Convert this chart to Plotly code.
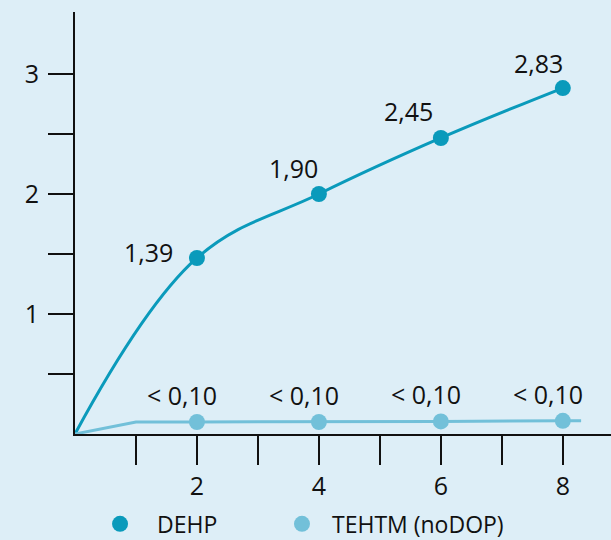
import plotly.graph_objects as go

# Data
x_dehp = [0, 2, 4, 6, 8]
y_dehp = [0, 1.467, 2.0, 2.467, 2.883]
lbl_dehp = ["", "1,39", "1,90", "2,45", "2,83"]

x_tehtm = [0, 1, 2, 4, 6, 8, 8.3]
y_tehtm = [0, 0.1, 0.1, 0.1, 0.105, 0.11, 0.11]
lbl_tehtm = ["", "", "< 0,10", "< 0,10", "< 0,10", "< 0,10", ""]

x_ticks = [1, 2, 3, 4, 5, 6, 7, 8]
x_ticktext = ["", "2", "", "4", "", "6", "", "8"]
y_ticks = [0.5, 1, 1.5, 2, 2.5, 3]
y_ticktext = ["", "1", "", "2", "", "3"]

series_names = ["DEHP", "TEHTM (noDOP)"]

# Styles
c_dark = "#0a9abb"
c_light = "#72c0d9"
bg = "#ddeef7"
ink = "#111111"
font_family = "Open Sans, Noto Sans, sans-serif"
dehp_label_shift = [(0, 0), (-48, 6), (-25, 26), (-32, 27), (-24, 25)]
tehtm_label_shift = (-15, 27)

fig = go.Figure()

fig.add_trace(go.Scatter(
    x=x_dehp, y=y_dehp, mode="lines",
    line=dict(color=c_dark, width=3, shape="spline", smoothing=1.1),
    showlegend=False, hoverinfo="skip"))
fig.add_trace(go.Scatter(
    x=x_dehp[1:], y=y_dehp[1:], mode="markers", marker=dict(color=c_dark, size=16),
    showlegend=False))
fig.add_trace(go.Scatter(
    x=x_tehtm, y=y_tehtm, mode="lines", line=dict(color=c_light, width=3),
    showlegend=False, hoverinfo="skip"))
fig.add_trace(go.Scatter(
    x=[x for x, l in zip(x_tehtm, lbl_tehtm) if l],
    y=[y for y, l in zip(y_tehtm, lbl_tehtm) if l],
    mode="markers", marker=dict(color=c_light, size=16), showlegend=False))

# legend-only traces (one legend box each, positioned like the reference)
fig.add_trace(go.Scatter(x=[None], y=[None], mode="markers", name=series_names[0],
                         marker=dict(color=c_dark, size=16), legend="legend"))
fig.add_trace(go.Scatter(x=[None], y=[None], mode="markers", name=series_names[1],
                         marker=dict(color=c_light, size=16), legend="legend2"))

annotations = []
for (x, y, l), (dx, dy) in zip(zip(x_dehp, y_dehp, lbl_dehp), dehp_label_shift):
    if l:
        annotations.append(dict(x=x, y=y, text=l, showarrow=False, xanchor="center", yanchor="middle",
                                xshift=dx, yshift=dy, font=dict(size=25, color=ink)))
for x, y, l in zip(x_tehtm, y_tehtm, lbl_tehtm):
    if l:
        annotations.append(dict(x=x, y=y, text=l, showarrow=False, xanchor="center", yanchor="middle",
                                xshift=tehtm_label_shift[0], yshift=tehtm_label_shift[1],
                                font=dict(size=25, color=ink)))

legend_common = dict(orientation="h", xanchor="left", y=-0.213, yanchor="middle",
                     font=dict(size=23), bgcolor="rgba(0,0,0,0)")

fig.update_layout(
    width=611, height=540,
    margin=dict(l=75, r=0, t=12, b=106, pad=0, autoexpand=False),
    paper_bgcolor=bg, plot_bgcolor=bg,
    font=dict(family=font_family, size=25, color=ink),
    annotations=annotations,
    showlegend=True,
    legend=dict(x=0.015, itemwidth=64, **legend_common),
    legend2=dict(x=0.3675, itemwidth=50, **legend_common),
    xaxis=dict(range=[0, 8.79], showgrid=False, zeroline=False, showline=True, linecolor=ink,
               linewidth=2, ticks="outside", tickvals=x_ticks, ticktext=x_ticktext, ticklen=29,
               tickwidth=2, tickcolor=ink, ticklabelstandoff=0, automargin=False),
    yaxis=dict(range=[0, 3.517], showgrid=False, zeroline=False, showline=True, linecolor=ink,
               linewidth=2, ticks="outside", tickvals=y_ticks, ticktext=y_ticktext, ticklen=25,
               tickwidth=2, tickcolor=ink, ticklabelstandoff=4, automargin=False),
)

fig.write_html("out.html", config={"displayModeBar": False},
               post_script="document.body.style.margin='0';document.body.style.background='%s';" % bg)
